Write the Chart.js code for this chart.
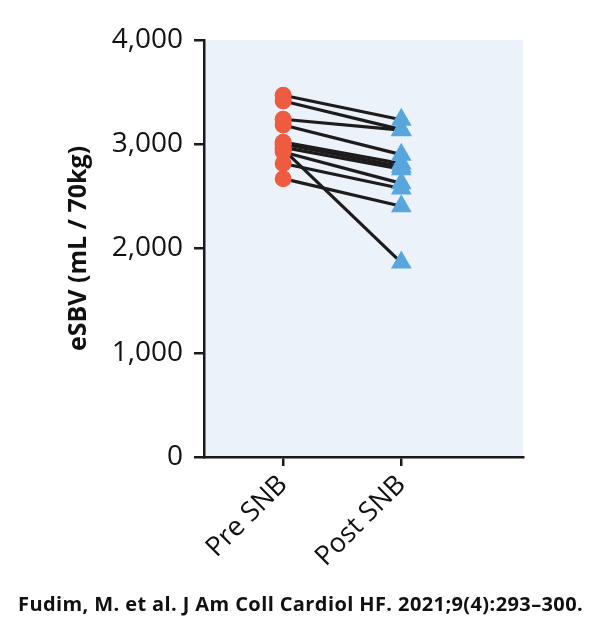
<!DOCTYPE html>
<html>
<head>
<meta charset="utf-8">
<script src="https://cdn.jsdelivr.net/npm/chart.js@4"></script>
<style>
  body { margin: 0; background: #fff; }
  #wrap { position: relative; width: 600px; height: 631px; }
  #footer {
    position: absolute; left: 18px; top: 590px;
    font-family: "Open Sans", sans-serif; font-weight: bold; font-size: 20px;
    color: #111; white-space: nowrap; letter-spacing: 0.4px;
  }
</style>
</head>
<body>
<div id="wrap">
  <canvas id="myChart" width="600" height="631"></canvas>
  <div id="footer">Fudim, M. et al. J Am Coll Cardiol HF. 2021;9(4):293–300.</div>
</div>
<script>
// one entry per patient
const categories = ['Pre SNB', 'Post SNB'];
const preValues  = [3470, 3415, 3240, 3185, 3020, 3000, 2970, 2950, 2925, 2815, 2670];
const postValues = [3235, 3140, 3135, 2900, 2815, 2785, 2760, 1865, 2625, 2575, 2405];
const yTicks = [0, 1000, 2000, 3000, 4000];

const red = '#EF5B41';
const blue = '#58A6DE';

const plotBg = {
  id: 'plotBg',
  beforeDraw(chart) {
    const {ctx, chartArea: a} = chart;
    ctx.save();
    ctx.fillStyle = '#ECF2FA';
    ctx.fillRect(a.left, a.top, a.right - a.left, a.bottom - a.top);
    ctx.restore();
  }
};

const datasets = [];
datasets.push({
  label: 'Pre',
  data: preValues.map(v => ({x: 1, y: v})),
  showLine: false,
  pointStyle: 'circle',
  pointRadius: 8.5,
  pointBackgroundColor: red,
  pointBorderWidth: 0,
  order: 0
});
datasets.push({
  label: 'Post',
  data: postValues.map(v => ({x: 2, y: v})),
  showLine: false,
  pointStyle: 'triangle',
  pointRadius: 12,
  pointBackgroundColor: blue,
  pointBorderWidth: 0,
  order: 0
});
for (let i = 0; i < preValues.length; i++) {
  datasets.push({
    label: 'p' + i,
    data: [{x: 1, y: preValues[i]}, {x: 2, y: postValues[i]}],
    showLine: true,
    borderColor: '#1d1b1c',
    borderWidth: 3.2,
    pointRadius: 0,
    order: 1
  });
}

const config = {
  type: 'scatter',
  data: { datasets },
  plugins: [plotBg],
  options: {
    responsive: false,
    animation: false,
    layout: { padding: { left: 0, right: 77, top: 40, bottom: 0 } },
    plugins: { legend: { display: false }, tooltip: { enabled: false } },
    scales: {
      x: {
        type: 'linear',
        min: 0.33,
        max: 3.03,
        afterBuildTicks: s => { s.ticks = [{value: 1}, {value: 2}]; },
        afterFit: s => { s.height = 174; },
        ticks: {
          callback: v => categories[v - 1],
          minRotation: 45,
          maxRotation: 45,
          padding: 3,
          color: '#111',
          font: { family: 'Open Sans', size: 27, weight: 500 }
        },
        grid: { drawOnChartArea: false, tickLength: 9, color: '#1a1a1a', lineWidth: 2.5 },
        border: { display: true, color: '#1a1a1a', width: 2.5 }
      },
      y: {
        min: 0,
        max: 4000,
        afterBuildTicks: s => { s.ticks = yTicks.map(v => ({value: v})); },
        afterFit: s => { s.width = 204; },
        ticks: {
          callback: v => v.toLocaleString('en-US'),
          padding: 11,
          color: '#111',
          font: { family: 'Open Sans', size: 28, weight: 500 }
        },
        grid: { drawOnChartArea: false, tickLength: 10, color: '#1a1a1a', lineWidth: 2.5 },
        border: { display: true, color: '#1a1a1a', width: 2.5 },
        title: {
          display: true,
          text: 'eSBV (mL / 70kg)',
          color: '#111',
          padding: { top: 64, bottom: 0 },
          font: { family: 'Open Sans', size: 25, weight: 'bold' }
        }
      }
    }
  }
};

new Chart(document.querySelector('#myChart'), config);
</script>
</body>
</html>
